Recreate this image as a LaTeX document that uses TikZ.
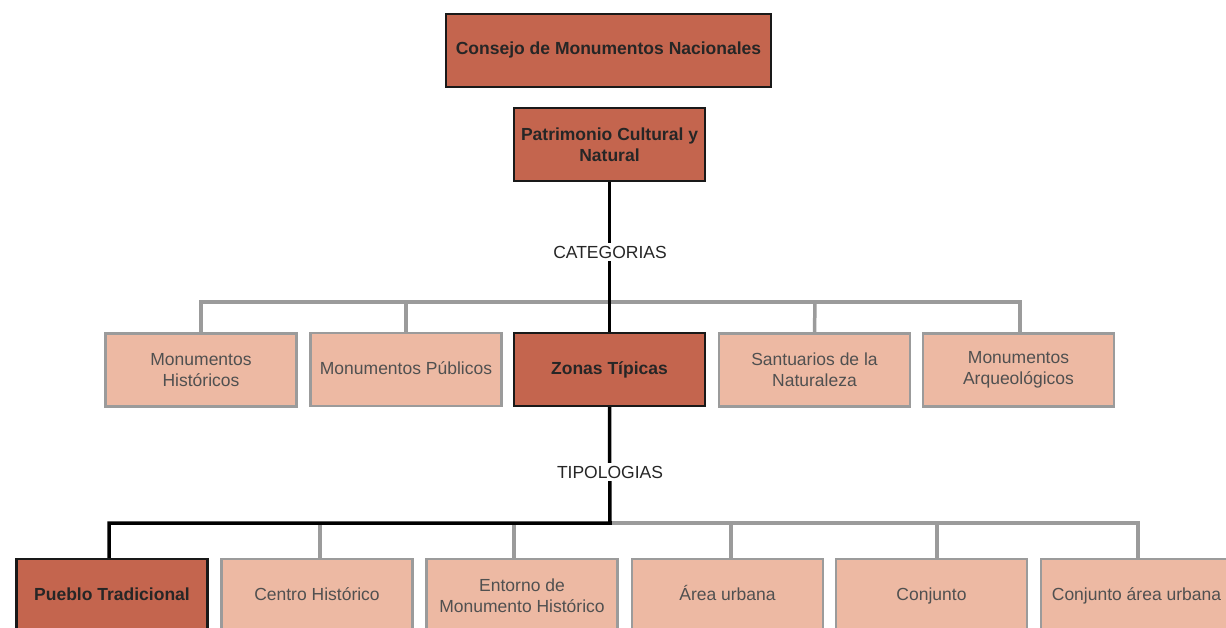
\documentclass[tikz,border=0pt]{standalone}
\usepackage{fontspec}
\setmainfont{Liberation Sans}
\definecolor{darkbox}{HTML}{C4654E}
\definecolor{lightbox}{HTML}{EDB9A3}
\definecolor{graybd}{HTML}{9B9B9B}
\definecolor{graytxt}{HTML}{505050}
\tikzset{
  dbox/.style={draw=black!90, line width=2.2pt, fill=darkbox, minimum width=191pt, minimum height=73pt, inner sep=2pt, align=center, font=\fontsize{17.5}{21}\selectfont\bfseries, text=black!85},
  lbox/.style={draw=graybd, line width=2.2pt, fill=lightbox, minimum width=191pt, minimum height=73pt, inner sep=2pt, align=center, font=\fontsize{17.5}{21}\selectfont, text=graytxt},
  oneline/.style={text height=12.6pt, text depth=3.6pt},
  bl/.style={line width=3.5pt, black},
  gl/.style={line width=3.5pt, graybd},
  lab/.style={fill=white, font=\fontsize{17.5}{20}\selectfont, text=black!85, inner sep=3pt}
}
\begin{document}
\begin{tikzpicture}[x=1pt,y=-1pt]
\clip (0,0) rectangle (1226,628);
\fill[white] (0,0) rectangle (1226,628);
% top
\node[dbox, oneline, minimum width=325pt] (cmn) at (608.5,50.5) {Consejo de Monumentos Nacionales};
\node[dbox] (pcn) at (609.5,144.5) {Patrimonio Cultural y\\Natural};
% row 2
\node[lbox] (mh) at (201,370) {Monumentos\\Históricos};
\node[lbox, oneline] (mp) at (406,369.5) {Monumentos Públicos};
\node[lbox] (sn) at (814.5,370) {Santuarios de la\\Naturaleza};
\node[lbox] (ma) at (1018.5,370) {Monumentos\\Arqueológicos};
% row 3
\node[lbox, oneline] (ch) at (317,595.5) {Centro Histórico};
\node[lbox] (em) at (522,595.5) {Entorno de\\Monumento Histórico};
\node[lbox, oneline] (au) at (727.5,595.5) {Área urbana};
\node[lbox, oneline] (cj) at (931.5,595.5) {Conjunto};
\node[lbox, oneline] (ca) at (1136.5,595.5) {Conjunto área urbana};
% gray brackets (row 2)
\draw[gl] (mh.north) -- (201,302) -- (1020,302) -- (ma.north -| 1020,332);
\draw[gl] (406,302) -- (mp.north);
\draw[gl] (815,302) -- (sn.north);
% gray brackets (row 3)
\draw[gl] (610,523) -- (1138,523) -- (1138,558);
\draw[gl] (320,523) -- (ch.north -| 320,558);
\draw[gl] (514,523) -- (em.north -| 514,558);
\draw[gl] (731,523) -- (au.north -| 731,558);
\draw[gl] (937,523) -- (cj.north -| 937,558);
% dark boxes drawn after lines
\node[dbox, oneline] (zt) at (609.5,369.5) {Zonas Típicas};
\node[dbox, oneline] (pt) at (112,595.5) {Pueblo Tradicional};
% black lines
\draw[bl] (pcn.south) -- (zt.north);
\draw[bl] (zt.south) -- (610,523) -- (109,523) -- (pt.north -| 109,558);
\node[lab] (cat) at (610,252) {CATEGORIAS};
\node[lab] (tip) at (610,472) {TIPOLOGIAS};
\end{tikzpicture}
\end{document}
